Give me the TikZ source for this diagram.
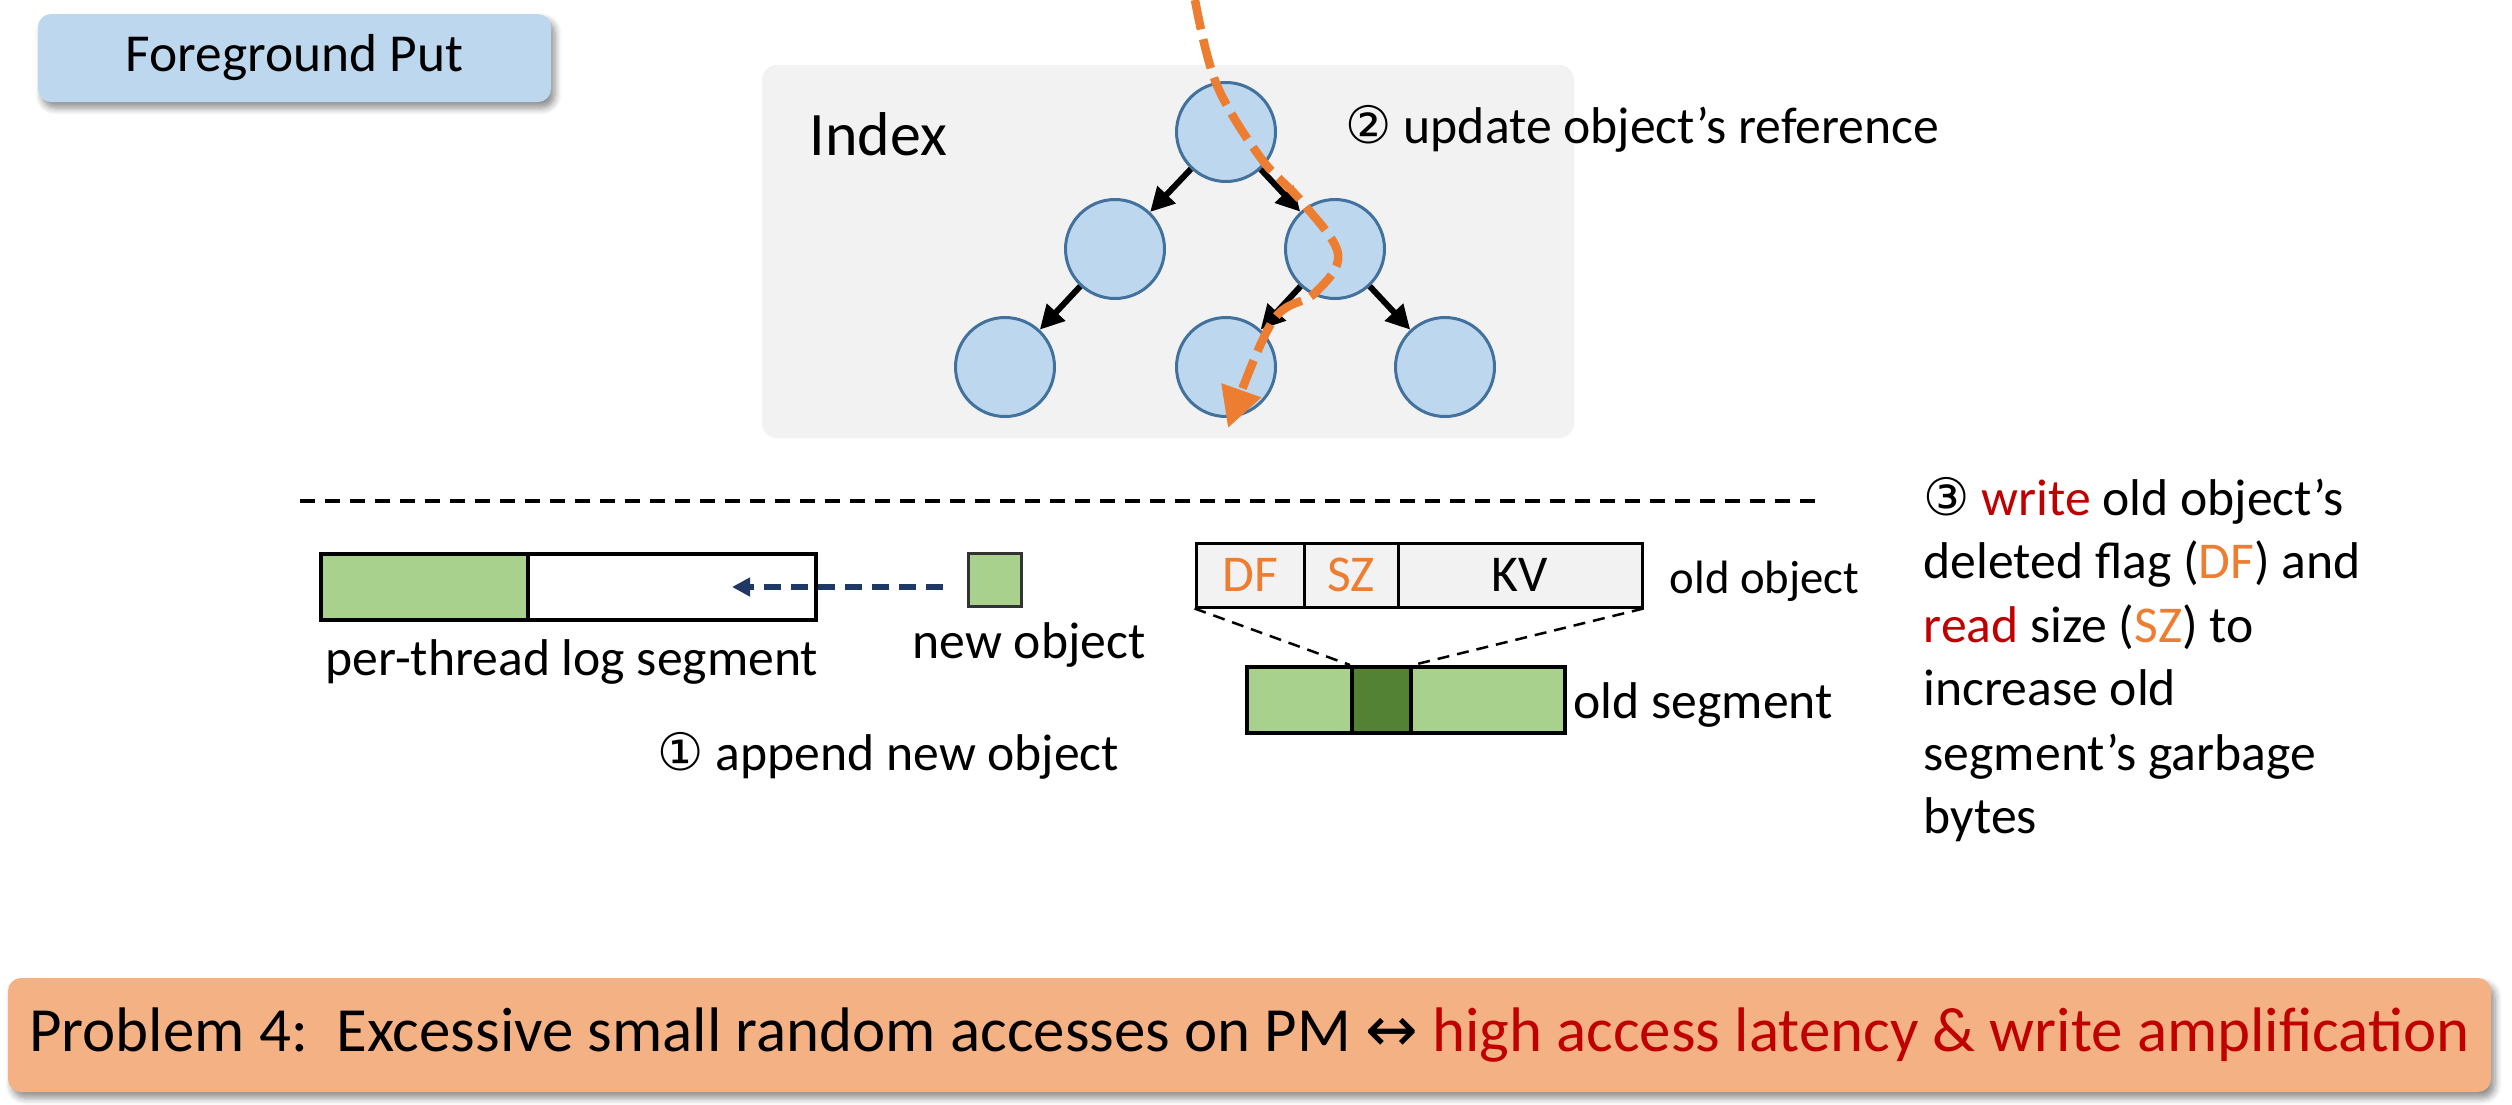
\documentclass[tikz,border=0pt]{standalone}
\usepackage{fontspec}
\setmainfont{Carlito}
\newfontfamily\symf{DejaVu Sans}
\usetikzlibrary{arrows.meta,shadows.blur,calc}
\definecolor{orc}{HTML}{ED7D31}
\definecolor{redc}{HTML}{C00000}
\definecolor{lblue}{HTML}{BDD7EE}
\definecolor{circb}{HTML}{41719C}
\definecolor{lgreen}{HTML}{A9D18E}
\definecolor{dgreen}{HTML}{548235}
\definecolor{lgray}{HTML}{F2F2F2}
\definecolor{peach}{HTML}{F4B183}
\definecolor{navy}{HTML}{203864}
\begin{document}
\begin{tikzpicture}[x=0.1mm,y=-0.1mm,
  txt/.style={font=\fontsize{14.7}{17}\selectfont, inner sep=0, anchor=base west},
  circ/.style={circle, draw=circb, fill=lblue, line width=0.3mm, minimum size=9.9mm, inner sep=0},
  tarrow/.style={-{Triangle[length=2.4mm,width=2.4mm]}, line width=0.6mm},
  cell/.style={draw, fill=lgray, line width=0.3mm, minimum height=6.4mm, inner sep=0, font=\fontsize{14.7}{17}\selectfont},
  segc/.style={draw, line width=0.4mm, inner sep=0, minimum height=6.6mm},
  shbox/.style={rounded corners=1.3mm, blur shadow={shadow xshift=0.4mm, shadow yshift=-0.6mm, shadow opacity=45, shadow blur steps=6}},
  orangedash/.style={draw=orc, line width=0.85mm, dash pattern=on 3mm off 1mm, -{Triangle[length=4mm,width=4mm,fill=orc]}},
  navydash/.style={draw=navy, line width=0.65mm, dash pattern=on 1.7mm off 1mm, -{Triangle[length=1.8mm,width=1.8mm,fill=navy]}},
  thindash/.style={line width=0.25mm, dash pattern=on 1.2mm off 0.8mm}
]
\useasboundingbox (0,0) rectangle (2512,1104);

% Foreground Put
\node[shbox, fill=lblue, minimum width=51.3mm, minimum height=8.8mm, inner sep=0,
  font=\fontsize{15.2}{18}\selectfont] (fg) at (294.5,58) {Foreground Put};

% Index box
\node[fill=lgray, rounded corners=1.5mm, minimum width=81.2mm, minimum height=37.3mm, inner sep=0] (idx) at (1168,251.5) {};
\node[txt, font=\fontsize{17.6}{20}\selectfont] (idxl) at (809,155) {Index};

% tree
\node[circ] (r) at (1226,132) {};
\node[circ] (ml) at (1115,249) {};
\node[circ] (mr) at (1335,249) {};
\node[circ] (bl) at (1005,367) {};
\node[circ] (bm) at (1226,367) {};
\node[circ] (br) at (1445,367) {};
\draw[tarrow] (r) -- (ml);
\draw[tarrow] (r) -- (mr);
\draw[tarrow] (ml) -- (bl);
\draw[tarrow] (mr) -- (bm);
\draw[tarrow] (mr) -- (br);

% orange path
\coordinate (op0) at (1195,0);
\coordinate (op1) at (1216,83);
\coordinate (op2) at (1260,157);
\coordinate (op3) at (1302,202);
\coordinate (op4) at (1338,254);
\coordinate (op5) at (1315,293);
\coordinate (op6) at (1272,322);
\coordinate (op7) at (1228,428);
\draw[orangedash] plot[smooth, tension=0.6] coordinates {(op0) (op1) (op2) (op3) (op4) (op5) (op6) (op7)};

\node[txt] (upd) at (1345,143) {{\symf ②} update object’s reference};

% separator
\coordinate (hl1) at (300,501);
\coordinate (hl2) at (1818,501);
\draw[line width=0.35mm, dash pattern=on 1.5mm off 1mm] (hl1) -- (hl2);

% log segment
\node[segc, fill=lgreen, minimum width=20.7mm] (logg) at (424.5,587) {};
\node[segc, fill=white, minimum width=28.8mm] (logw) at (672,587) {};
\node[txt] (logl) at (325,675) {per-thread log segment};

% new object
\node[draw=black!80, fill=lgreen, line width=0.3mm, minimum size=5.3mm, inner sep=0] (newo) at (994.5,579.5) {};
\node[txt] (newl) at (912,658) {new object};
\coordinate (tipc) at (732,587);
\draw[navydash] ($(newo.west |- tipc)+(-24,0)$) -- (tipc);

\node[txt] (app) at (657,770) {{\symf ①} append new object};

% old object
\node[cell, minimum width=10.8mm, text=orc] (df) at (1250,575) {DF};
\node[cell, minimum width=9.4mm, text=orc] (sz) at (1351,575) {SZ};
\node[cell, minimum width=24.4mm] (kv) at (1520,575) {KV};
\node[txt, font=\fontsize{13.3}{15}\selectfont] (oldol) at (1669,593) {old object};

% old segment
\node[segc, fill=lgreen, minimum width=10.5mm] (sl) at (1299.5,700) {};
\node[segc, fill=dgreen, minimum width=5.9mm] (sd) at (1381.5,700) {};
\node[segc, fill=lgreen, minimum width=15.4mm] (sr) at (1488,700) {};
\node[txt] (oldsl) at (1573,718) {old segment};
\draw[thindash] (df.south west) -- (sd.north west);
\draw[thindash] (kv.south east) -- (sd.north east);

% right text
\node[txt] (t1) at (1923,515) {{\symf ③} \textcolor{redc}{write} old object’s};
\node[txt] (t2) at (1923,578) {deleted flag (\textcolor{orc}{DF}) and};
\node[txt] (t3) at (1923,642) {\textcolor{redc}{read} size (\textcolor{orc}{SZ}) to};
\node[txt] (t4) at (1923,705) {increase old};
\node[txt] (t5) at (1923,770) {segment’s garbage};
\node[txt] (t6) at (1923,833) {bytes};

% problem box
\node[shbox, fill=peach, minimum width=248.3mm, minimum height=11.4mm, inner sep=0,
  font=\fontsize{17.9}{20}\selectfont] (prob) at (1249.5,1035)
  {Problem 4:\ \ Excessive small random accesses on PM {\symf ↔} \textcolor{redc}{high access latency \& write amplification}};
\end{tikzpicture}
\end{document}
